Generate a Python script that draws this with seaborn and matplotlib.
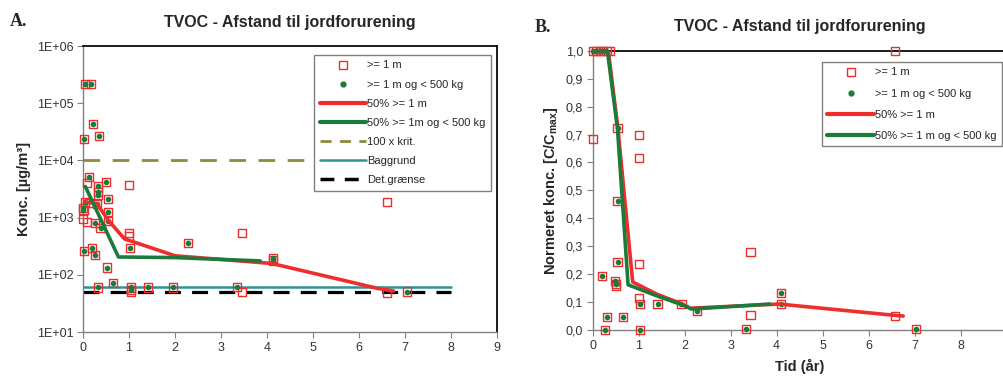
import matplotlib
matplotlib.use("Agg")
import matplotlib.pyplot as plt
from matplotlib.lines import Line2D
import seaborn as sns
import pandas as pd
import numpy as np

sns.set_theme(style="white")
plt.rcParams["font.family"] = ["Liberation Sans", "DejaVu Sans"]
plt.rcParams["mathtext.default"] = "regular"

RED = "#ee2d2d"
GREEN = "#1b7b3b"
OLIVE = "#8c8c3c"
TEAL = "#2a9595"
TITLE = "TVOC - Afstand til jordforurening"

# ---- panel A: concentration (ug/m3) vs distance/time ----
a_both_x = [0.04, 0.17, 0.22, 0.02, 0.34, 0.13, 0.32, 0.32, 0.32, 0.49, 0.55, 0.04,
            0.0, 0.01, 0.30, 0.55, 0.55, 0.26, 0.38, 2.29, 1.02, 0.03, 0.19, 0.26,
            0.53, 0.66, 0.32, 1.04, 1.04, 1.42, 1.95, 3.34, 4.12, 4.12, 7.04]
a_both_y = [2.15e5, 2.2e5, 4.4e4, 2.4e4, 2.7e4, 5.2e3, 3.5e3, 2.8e3, 2.45e3, 4.2e3, 2.1e3, 1.9e3,
            1.45e3, 1.35e3, 1.7e3, 1.26e3, 870, 800, 650, 360, 290, 260, 290, 220,
            134, 71, 60, 60, 55, 60, 60, 62, 195, 178, 51]
a_red_x = [0.08, 1.0, 0.0, 0.08, 1.0, 1.0, 3.46, 1.04, 3.46, 6.6, 6.6, 0.12]
a_red_y = [4.0e3, 3.7e3, 950, 850, 540, 470, 540, 51, 50, 1.9e3, 48, 1.8e3]

a_med_red_x = [0.0, 0.3, 0.55, 0.9, 2.0, 4.1, 6.4, 6.75]
a_med_red_y = [1900, 1750, 900, 425, 215, 158, 58, 52]
a_med_green_x = [0.05, 0.77, 2.0, 3.85]
a_med_green_y = [3500, 205, 200, 175]

ref_x = [0, 8]
krit_y = [1e4, 1e4]
bag_y = [60, 60]
det_y = [50, 50]

a_yticks = [1e1, 1e2, 1e3, 1e4, 1e5, 1e6]
a_yticklabels = ["1E+01", "1E+02", "1E+03", "1E+04", "1E+05", "1E+06"]

# ---- panel B: normalised concentration vs time ----
b_both_x = [0.0, 0.08, 0.15, 0.22, 0.30, 0.54, 0.54, 0.54, 0.21, 0.48, 0.50,
            1.03, 1.41, 1.93, 2.26, 4.09, 4.09, 7.02, 3.33, 0.32, 0.65, 0.27, 1.02]
b_both_y = [1.0, 1.0, 1.0, 1.0, 1.0, 0.723, 0.462, 0.242, 0.195, 0.175, 0.165,
            0.093, 0.093, 0.093, 0.068, 0.131, 0.093, 0.004, 0.004, 0.048, 0.045, 0.0, 0.0]
b_red_x = [0.0, 1.0, 1.0, 3.43, 1.0, 1.0, 3.43, 6.58, 0.5, 6.58, 0.38]
b_red_y = [0.685, 0.698, 0.616, 0.278, 0.235, 0.115, 0.055, 0.051, 0.158, 1.0, 1.0]

b_med_red_x = [0.0, 0.34, 0.55, 0.87, 1.4, 1.95, 2.12, 4.05, 6.6, 6.75]
b_med_red_y = [1.0, 1.0, 0.72, 0.172, 0.128, 0.093, 0.078, 0.093, 0.052, 0.05]
b_med_green_x = [0.0, 0.32, 0.54, 0.77, 1.4, 1.95, 2.15, 3.85]
b_med_green_y = [1.0, 1.0, 0.72, 0.162, 0.122, 0.09, 0.075, 0.093]

b_yticks = [0.0, 0.1, 0.2, 0.3, 0.4, 0.5, 0.6, 0.7, 0.8, 0.9, 1.0]
xticks = list(range(0, 10))


def scatter_pair(ax, bx, by, rx, ry):
    allx = bx + rx
    ally = by + ry
    sns.scatterplot(x=allx, y=ally, ax=ax, marker="s", s=34, facecolor="none",
                    edgecolor=RED, linewidth=1.0, clip_on=False, zorder=3)
    sns.scatterplot(x=bx, y=by, ax=ax, marker="o", s=16, color=GREEN,
                    edgecolor=GREEN, linewidth=0, clip_on=False, zorder=4)


def style_axes(ax):
    for side in ["left", "bottom"]:
        ax.spines[side].set_color("#808080")
        ax.spines[side].set_linewidth(1.0)
    ax.spines["top"].set_color("black")
    ax.spines["right"].set_color("black")
    ax.tick_params(axis="both", direction="out", length=4, width=0.8, color="#808080",
                   labelsize=9, labelcolor="#333333", left=True, bottom=True, pad=3)
    ax.set_xticks(xticks)
    ax.set_xlim(0, 9)


fig = plt.figure(figsize=(10.04, 3.76), dpi=100)

# panel A
axA = fig.add_axes([0.0827, 0.117, 0.4124, 0.7606])
scatter_pair(axA, a_both_x, a_both_y, a_red_x, a_red_y)
sns.lineplot(x=ref_x, y=krit_y, ax=axA, color=OLIVE, linewidth=2, dashes=(6, 4.5), zorder=2)
sns.lineplot(x=ref_x, y=bag_y, ax=axA, color=TEAL, linewidth=1.8, zorder=2)
sns.lineplot(x=ref_x, y=det_y, ax=axA, color="black", linewidth=2.3, dashes=(5, 3.5), zorder=2)
sns.lineplot(x=a_med_red_x, y=a_med_red_y, ax=axA, color=RED, linewidth=2.6,
             sort=False, zorder=5)
sns.lineplot(x=a_med_green_x, y=a_med_green_y, ax=axA, color=GREEN, linewidth=2.6,
             sort=False, zorder=6)
axA.set_yscale("log")
axA.set_ylim(10, 1e6)
axA.set_yticks(a_yticks)
axA.set_yticklabels(a_yticklabels)
axA.minorticks_off()
style_axes(axA)
axA.set_ylabel("Konc. [µg/m³]", fontsize=10.5, fontweight="bold", labelpad=4)

handlesA = [
    Line2D([], [], marker="s", linestyle="none", markerfacecolor="none",
           markeredgecolor=RED, markersize=6, markeredgewidth=1.0),
    Line2D([], [], marker="o", linestyle="none", color=GREEN, markersize=3.5),
    Line2D([], [], color=RED, linewidth=3),
    Line2D([], [], color=GREEN, linewidth=3),
    Line2D([], [], color=OLIVE, linewidth=2, dashes=(4, 3)),
    Line2D([], [], color=TEAL, linewidth=1.8),
    Line2D([], [], color="black", linewidth=2.5, dashes=(4, 3)),
]
labelsA = [">= 1 m", ">= 1 m og < 500 kg", "50% >= 1 m", "50% >= 1m og < 500 kg",
           "100 x krit.", "Baggrund", "Det.grænse"]
legA = axA.legend(handlesA, labelsA, loc="upper right", bbox_to_anchor=(0.986, 0.969),
                  fontsize=8, frameon=True, fancybox=False, framealpha=1,
                  edgecolor="#808080", borderaxespad=0, handlelength=4.2,
                  handletextpad=0.1, labelspacing=0.82, borderpad=0.5)
legA.get_frame().set_linewidth(1.0)

# panel B
axB = fig.add_axes([0.5903, 0.1223, 0.4124, 0.7428])
scatter_pair(axB, b_both_x, b_both_y, b_red_x, b_red_y)
sns.lineplot(x=b_med_red_x, y=b_med_red_y, ax=axB, color=RED, linewidth=2.6,
             sort=False, zorder=5)
sns.lineplot(x=b_med_green_x, y=b_med_green_y, ax=axB, color=GREEN, linewidth=2.6,
             sort=False, zorder=6)
axB.set_ylim(0, 1.0)
axB.set_yticks(b_yticks)
axB.set_yticklabels([f"{v:.1f}".replace(".", ",") for v in b_yticks])
style_axes(axB)
axB.spines["right"].set_visible(False)
axB.set_ylabel("Normeret konc. [C/C$_{max}$]", fontsize=10.5, fontweight="bold", labelpad=4)
axB.set_xlabel("Tid (år)", fontsize=10.5, fontweight="bold", labelpad=5)

handlesB = handlesA[:4]
labelsB = [">= 1 m", ">= 1 m og < 500 kg", "50% >= 1 m", "50% >= 1 m og < 500 kg"]
legB = axB.legend(handlesB, labelsB, loc="upper right", bbox_to_anchor=(0.989, 0.96),
                  fontsize=8, frameon=True, fancybox=False, framealpha=1,
                  edgecolor="#808080", borderaxespad=0, handlelength=4.2,
                  handletextpad=0.1, labelspacing=1.0, borderpad=0.5)
legB.get_frame().set_linewidth(1.0)

# titles and panel letters
fig.text(290 / 1004, 1 - 22 / 376, TITLE, ha="center", va="center",
         fontsize=11.5, fontweight="bold")
fig.text(800 / 1004, 1 - 27 / 376, TITLE, ha="center", va="center",
         fontsize=11.5, fontweight="bold")
fig.text(10 / 1004, 1 - 22 / 376, "A.", ha="left", va="center", fontsize=13,
         fontweight="bold", family=["Liberation Serif", "DejaVu Serif"])
fig.text(535 / 1004, 1 - 27 / 376, "B.", ha="left", va="center", fontsize=13,
         fontweight="bold", family=["Liberation Serif", "DejaVu Serif"])

fig.savefig("out.png", dpi=100)
